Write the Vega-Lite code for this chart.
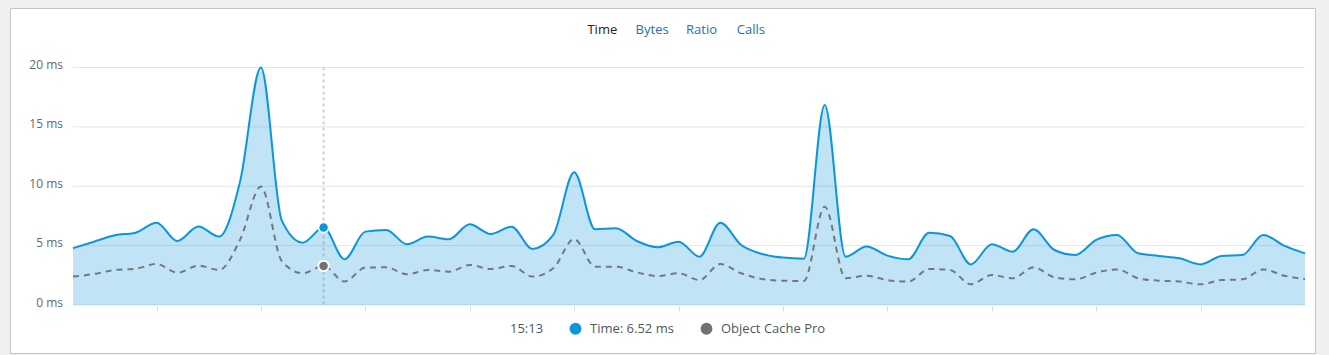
{
  "$schema": "https://vega.github.io/schema/vega-lite/v6.json",
  "width": 1305,
  "height": 345,
  "autosize": {"type": "none"},
  "padding": {"left": 10, "top": 8, "right": 14, "bottom": 2},
  "background": "#f0f0f1",
  "config": {
    "view": {"fill": "white", "stroke": "#c3c4c7", "strokeWidth": 1},
    "font": "Open Sans"
  },
  "datasets": {
    "series": [
      {"time": "2024-01-01T15:01:00", "ms": 4.78, "cache": 2.39},
      {"time": "2024-01-01T15:02:00", "ms": 5.33, "cache": 2.61},
      {"time": "2024-01-01T15:03:00", "ms": 5.87, "cache": 2.95},
      {"time": "2024-01-01T15:04:00", "ms": 6.09, "cache": 3.06},
      {"time": "2024-01-01T15:05:00", "ms": 6.93, "cache": 3.45},
      {"time": "2024-01-01T15:06:00", "ms": 5.39, "cache": 2.72},
      {"time": "2024-01-01T15:07:00", "ms": 6.6, "cache": 3.31},
      {"time": "2024-01-01T15:08:00", "ms": 5.76, "cache": 2.95},
      {"time": "2024-01-01T15:09:00", "ms": 10.39, "cache": 5.5},
      {"time": "2024-01-01T15:10:00", "ms": 20.0, "cache": 9.97},
      {"time": "2024-01-01T15:11:00", "ms": 7.1, "cache": 3.7},
      {"time": "2024-01-01T15:12:00", "ms": 5.25, "cache": 2.67},
      {"time": "2024-01-01T15:13:00", "ms": 6.52, "cache": 3.29},
      {"time": "2024-01-01T15:14:00", "ms": 3.85, "cache": 1.97},
      {"time": "2024-01-01T15:15:00", "ms": 6.18, "cache": 3.15},
      {"time": "2024-01-01T15:16:00", "ms": 6.32, "cache": 3.17},
      {"time": "2024-01-01T15:17:00", "ms": 5.11, "cache": 2.58},
      {"time": "2024-01-01T15:18:00", "ms": 5.76, "cache": 2.95},
      {"time": "2024-01-01T15:19:00", "ms": 5.53, "cache": 2.81},
      {"time": "2024-01-01T15:20:00", "ms": 6.8, "cache": 3.37},
      {"time": "2024-01-01T15:21:00", "ms": 5.98, "cache": 3.03},
      {"time": "2024-01-01T15:22:00", "ms": 6.6, "cache": 3.29},
      {"time": "2024-01-01T15:23:00", "ms": 4.72, "cache": 2.39},
      {"time": "2024-01-01T15:24:00", "ms": 5.9, "cache": 3.09},
      {"time": "2024-01-01T15:25:00", "ms": 11.18, "cache": 5.56},
      {"time": "2024-01-01T15:26:00", "ms": 6.38, "cache": 3.23},
      {"time": "2024-01-01T15:27:00", "ms": 6.46, "cache": 3.23},
      {"time": "2024-01-01T15:28:00", "ms": 5.39, "cache": 2.75},
      {"time": "2024-01-01T15:29:00", "ms": 4.86, "cache": 2.44},
      {"time": "2024-01-01T15:30:00", "ms": 5.33, "cache": 2.67},
      {"time": "2024-01-01T15:31:00", "ms": 4.07, "cache": 2.1},
      {"time": "2024-01-01T15:32:00", "ms": 6.93, "cache": 3.45},
      {"time": "2024-01-01T15:33:00", "ms": 5.05, "cache": 2.67},
      {"time": "2024-01-01T15:34:00", "ms": 4.3, "cache": 2.19},
      {"time": "2024-01-01T15:35:00", "ms": 3.99, "cache": 2.05},
      {"time": "2024-01-01T15:36:00", "ms": 3.9, "cache": 2.02},
      {"time": "2024-01-01T15:37:00", "ms": 16.85, "cache": 8.28},
      {"time": "2024-01-01T15:38:00", "ms": 4.07, "cache": 2.25},
      {"time": "2024-01-01T15:39:00", "ms": 4.92, "cache": 2.47},
      {"time": "2024-01-01T15:40:00", "ms": 4.16, "cache": 2.1},
      {"time": "2024-01-01T15:41:00", "ms": 3.85, "cache": 1.97},
      {"time": "2024-01-01T15:42:00", "ms": 6.09, "cache": 3.03},
      {"time": "2024-01-01T15:43:00", "ms": 5.81, "cache": 2.95},
      {"time": "2024-01-01T15:44:00", "ms": 3.42, "cache": 1.74},
      {"time": "2024-01-01T15:45:00", "ms": 5.12, "cache": 2.53},
      {"time": "2024-01-01T15:46:00", "ms": 4.49, "cache": 2.25},
      {"time": "2024-01-01T15:47:00", "ms": 6.38, "cache": 3.17},
      {"time": "2024-01-01T15:48:00", "ms": 4.63, "cache": 2.33},
      {"time": "2024-01-01T15:49:00", "ms": 4.21, "cache": 2.16},
      {"time": "2024-01-01T15:50:00", "ms": 5.48, "cache": 2.72},
      {"time": "2024-01-01T15:51:00", "ms": 5.9, "cache": 3.0},
      {"time": "2024-01-01T15:52:00", "ms": 4.35, "cache": 2.25},
      {"time": "2024-01-01T15:53:00", "ms": 4.13, "cache": 2.05},
      {"time": "2024-01-01T15:54:00", "ms": 3.93, "cache": 1.97},
      {"time": "2024-01-01T15:55:00", "ms": 3.42, "cache": 1.74},
      {"time": "2024-01-01T15:56:00", "ms": 4.13, "cache": 2.1},
      {"time": "2024-01-01T15:57:00", "ms": 4.21, "cache": 2.16},
      {"time": "2024-01-01T15:58:00", "ms": 5.9, "cache": 3.0},
      {"time": "2024-01-01T15:59:00", "ms": 5.0, "cache": 2.47},
      {"time": "2024-01-01T16:00:00", "ms": 4.35, "cache": 2.19}
    ],
    "grid": [{"g": 0}, {"g": 5}, {"g": 10}, {"g": 15}, {"g": 20}],
    "hover": [{"time": "2024-01-01T15:13:00", "ms": 6.52, "cache": 3.29}],
    "tabs": [{"tab": "Time"}, {"tab": "Bytes"}, {"tab": "Ratio"}, {"tab": "Calls"}]
  },
  "layer": [
    {
      "data": {"name": "grid"},
      "mark": {"type": "rule", "color": "#e2e4e7", "strokeWidth": 1},
      "encoding": {
        "x": {"datum": {"year": 2024, "month": 1, "date": 1, "hours": 15, "minutes": 1}, "type": "temporal"},
        "x2": {"datum": {"year": 2024, "month": 1, "date": 1, "hours": 16, "minutes": 0}},
        "y": {"field": "g", "type": "quantitative"}
      }
    },
    {
      "data": {"name": "hover"},
      "mark": {"type": "rule", "color": "#cfd0d2", "strokeWidth": 2, "strokeDash": [3, 3]},
      "encoding": {
        "x": {"field": "time", "type": "temporal"},
        "y": {"datum": 20, "type": "quantitative"},
        "y2": {"datum": 0}
      }
    },
    {
      "data": {"name": "series"},
      "mark": {"type": "area", "interpolate": "monotone", "color": "#0a96dd", "opacity": 0.26},
      "encoding": {
        "x": {
          "field": "time",
          "type": "temporal",
          "scale": {
            "domain": [
              {"year": 2024, "month": 1, "date": 1, "hours": 15, "minutes": 1},
              {"year": 2024, "month": 1, "date": 1, "hours": 16, "minutes": 0}
            ],
            "range": [63, 1295]
          },
          "axis": {
            "values": [
              {"year": 2024, "month": 1, "date": 1, "hours": 15, "minutes": 5},
              {"year": 2024, "month": 1, "date": 1, "hours": 15, "minutes": 10},
              {"year": 2024, "month": 1, "date": 1, "hours": 15, "minutes": 15},
              {"year": 2024, "month": 1, "date": 1, "hours": 15, "minutes": 20},
              {"year": 2024, "month": 1, "date": 1, "hours": 15, "minutes": 25},
              {"year": 2024, "month": 1, "date": 1, "hours": 15, "minutes": 30},
              {"year": 2024, "month": 1, "date": 1, "hours": 15, "minutes": 35},
              {"year": 2024, "month": 1, "date": 1, "hours": 15, "minutes": 40},
              {"year": 2024, "month": 1, "date": 1, "hours": 15, "minutes": 45},
              {"year": 2024, "month": 1, "date": 1, "hours": 15, "minutes": 50},
              {"year": 2024, "month": 1, "date": 1, "hours": 15, "minutes": 55}
            ],
            "labels": false,
            "domain": false,
            "grid": false,
            "ticks": true,
            "tickSize": 5,
            "tickColor": "#dcdcde",
            "tickWidth": 1,
            "offset": -47,
            "title": null
          }
        },
        "y": {
          "field": "ms",
          "type": "quantitative",
          "scale": {"domain": [0, 20], "range": [297, 59.5], "nice": false, "zero": false},
          "axis": {
            "values": [0, 5, 10, 15, 20],
            "labelExpr": "datum.value + ' ms'",
            "domain": false,
            "ticks": false,
            "tickSize": 0,
            "grid": false,
            "offset": -52.5,
            "labelPadding": 0,
            "labelOffset": -3,
            "labelFontSize": 12,
            "labelColor": "#646970",
            "title": null
          }
        }
      }
    },
    {
      "data": {"name": "series"},
      "mark": {"type": "line", "interpolate": "monotone", "color": "#0a96dd", "strokeWidth": 2},
      "encoding": {
        "x": {"field": "time", "type": "temporal"},
        "y": {"field": "ms", "type": "quantitative"}
      }
    },
    {
      "data": {"name": "series"},
      "mark": {"type": "line", "interpolate": "monotone", "color": "#74777b", "strokeWidth": 2, "strokeDash": [6, 5]},
      "encoding": {
        "x": {"field": "time", "type": "temporal"},
        "y": {"field": "cache", "type": "quantitative"}
      }
    },
    {
      "data": {"name": "hover"},
      "mark": {"type": "circle", "size": 100, "opacity": 1, "stroke": "white", "strokeWidth": 1.5},
      "encoding": {
        "x": {"field": "time", "type": "temporal"},
        "y": {"field": "ms", "type": "quantitative"},
        "color": {
          "datum": "Time: 6.52 ms",
          "scale": {"domain": ["Time: 6.52 ms", "Object Cache Pro"], "range": ["#0a96dd", "#707276"]},
          "legend": {
            "orient": "none",
            "legendX": 500,
            "legendY": 314,
            "direction": "horizontal",
            "title": "15:13",
            "titleOrient": "left",
            "titleFontSize": 13,
            "titleFontWeight": "normal",
            "titleColor": "#50575e",
            "titlePadding": 25,
            "titleBaseline": "middle",
            "symbolType": "circle",
            "symbolSize": 140,
            "symbolStrokeWidth": 0,
            "symbolOpacity": 1,
            "labelFontSize": 13,
            "labelColor": "#50575e",
            "labelOffset": 8,
            "columnPadding": 26,
            "padding": 0
          }
        }
      }
    },
    {
      "data": {"name": "hover"},
      "mark": {"type": "circle", "size": 110, "opacity": 1, "stroke": "white", "strokeWidth": 2},
      "encoding": {
        "x": {"field": "time", "type": "temporal"},
        "y": {"field": "cache", "type": "quantitative"},
        "color": {"datum": "Object Cache Pro"}
      }
    },
    {
      "data": {"name": "tabs"},
      "transform": [{"filter": "datum.tab === 'Time'"}],
      "mark": {"type": "text", "fontSize": 13, "baseline": "middle", "align": "center", "color": "#1d2327"},
      "encoding": {
        "text": {"field": "tab"},
        "x": {"datum": {"year": 2024, "month": 1, "date": 1, "hours": 15, "minutes": 26, "seconds": 21}, "type": "temporal"},
        "y": {"datum": 23.2, "type": "quantitative"}
      }
    },
    {
      "data": {"name": "tabs"},
      "transform": [{"filter": "datum.tab === 'Bytes'"}],
      "mark": {"type": "text", "fontSize": 13, "baseline": "middle", "align": "center", "color": "#2271b1"},
      "encoding": {
        "text": {"field": "tab"},
        "x": {"datum": {"year": 2024, "month": 1, "date": 1, "hours": 15, "minutes": 28, "seconds": 44}, "type": "temporal"},
        "y": {"datum": 23.2, "type": "quantitative"}
      }
    },
    {
      "data": {"name": "tabs"},
      "transform": [{"filter": "datum.tab === 'Ratio'"}],
      "mark": {"type": "text", "fontSize": 13, "baseline": "middle", "align": "center", "color": "#2271b1"},
      "encoding": {
        "text": {"field": "tab"},
        "x": {"datum": {"year": 2024, "month": 1, "date": 1, "hours": 15, "minutes": 31, "seconds": 6}, "type": "temporal"},
        "y": {"datum": 23.2, "type": "quantitative"}
      }
    },
    {
      "data": {"name": "tabs"},
      "transform": [{"filter": "datum.tab === 'Calls'"}],
      "mark": {"type": "text", "fontSize": 13, "baseline": "middle", "align": "center", "color": "#2271b1"},
      "encoding": {
        "text": {"field": "tab"},
        "x": {"datum": {"year": 2024, "month": 1, "date": 1, "hours": 15, "minutes": 33, "seconds": 28}, "type": "temporal"},
        "y": {"datum": 23.2, "type": "quantitative"}
      }
    }
  ]
}
